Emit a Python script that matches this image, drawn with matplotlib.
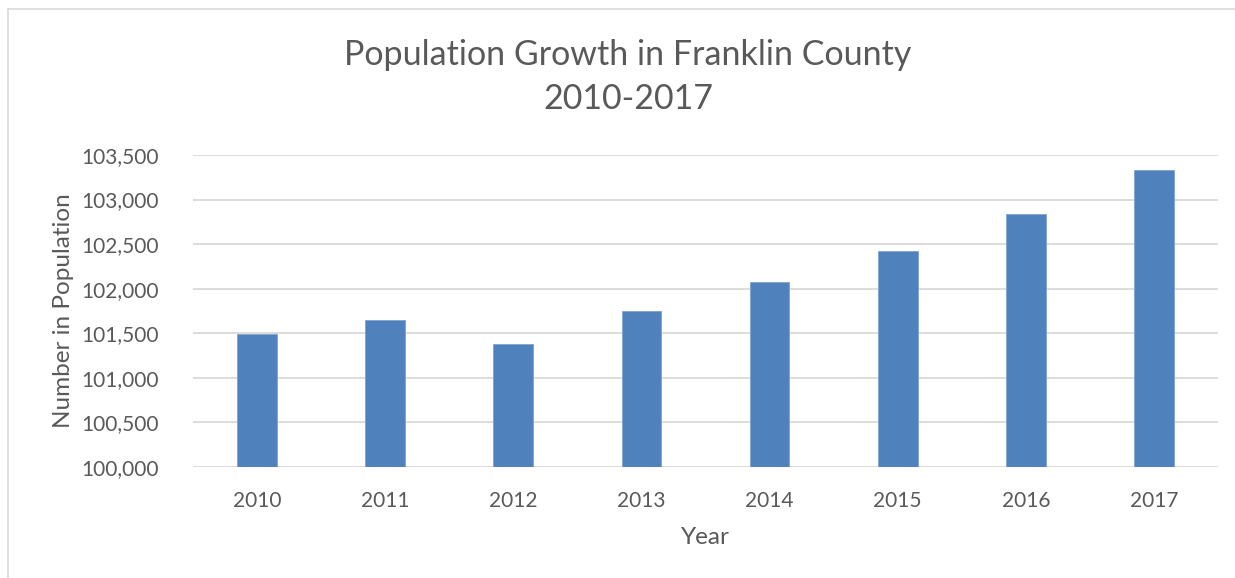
import matplotlib.pyplot as plt
import matplotlib.ticker as mticker
from matplotlib.lines import Line2D

# Данные
years = ['2010', '2011', '2012', '2013', '2014', '2015', '2016', '2017']
population = [101490, 101645, 101385, 101755, 102080, 102425, 102840, 103330]
y_ticks = [100000, 100500, 101000, 101500, 102000, 102500, 103000, 103500]

text_color = '#595959'
plt.rcParams['font.family'] = ['Lato', 'DejaVu Sans']

fig = plt.figure(figsize=(12.35, 5.78), dpi=100)
ax = fig.add_axes([193 / 1235, 1 - 467 / 578, (1218 - 193) / 1235, (467 - 155) / 578])

ax.bar(years, population, width=0.31, color='#4F81BD', edgecolor='#7fa3d0', linewidth=0.6, zorder=3)

ax.set_ylim(100000, 103500)
ax.set_yticks(y_ticks)
ax.yaxis.set_major_formatter(mticker.FuncFormatter(lambda v, p: '{:,.0f}'.format(v)))
ax.set_xlim(-0.5, len(years) - 0.5)
ax.grid(axis='y', color='#d9d9d9', linewidth=1.3, zorder=0)
for s in ax.spines.values():
    s.set_visible(False)
ax.tick_params(axis='both', length=0, labelsize=15, colors=text_color)
ax.tick_params(axis='y', pad=25)
ax.tick_params(axis='x', pad=17)

ax.set_xlabel('Year', fontsize=17.5, color=text_color, labelpad=12)
ax.set_ylabel('Number in Population', fontsize=17.5, color=text_color, labelpad=5)

fig.text(628 / 1235, 1 - 55 / 578, 'Population Growth in Franklin County', ha='center', va='center',
         fontsize=24.5, color=text_color)
fig.text(628 / 1235, 1 - 99 / 578, '2010-2017', ha='center', va='center',
         fontsize=24.5, color=text_color)

# рамка диаграммы
fig.add_artist(Line2D([8 / 1235, 1], [1 - 9 / 578, 1 - 9 / 578], color='#d9d9d9', linewidth=1.2, transform=fig.transFigure))
fig.add_artist(Line2D([8 / 1235, 8 / 1235], [0, 1 - 9 / 578], color='#d9d9d9', linewidth=1.2, transform=fig.transFigure))

fig.savefig('out.png', dpi=100, facecolor='white')
